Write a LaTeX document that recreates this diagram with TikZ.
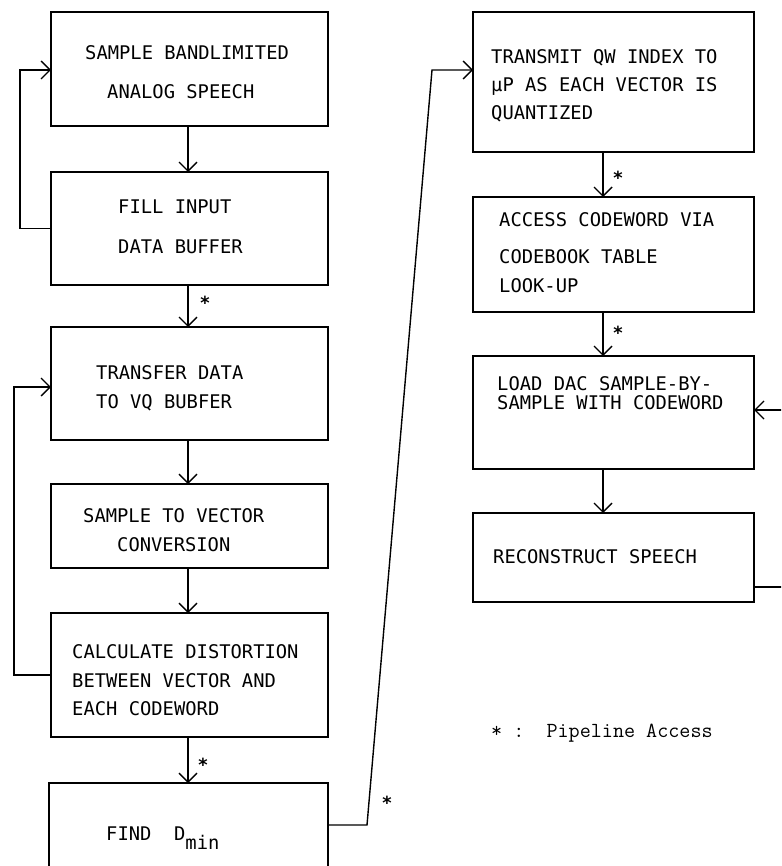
\documentclass[tikz,border=0pt]{standalone}
\usepackage{fontspec}
\newfontfamily\flowfont{DejaVu Sans Mono}
\usetikzlibrary{arrows.meta}

\begin{document}
\begin{tikzpicture}[x=1pt,y=-1pt,
  stage/.style={draw,line width=1.4pt,rectangle,inner sep=0pt,outer sep=0pt},
  txt/.style={anchor=base west,inner sep=0pt,font=\flowfont\fontsize{18.8}{22}\selectfont},
  pipe/.style={inner sep=0pt,font=\flowfont\bfseries\fontsize{18}{20}\selectfont},
  flow/.style={line width=1.4pt,-{Straight Barb[length=9pt,width=18pt]}},
  wire/.style={line width=1.4pt}]
  \useasboundingbox (0,0) rectangle (781,866);
  \clip (0,0) rectangle (781,866);

  % left column
  \node[stage,minimum width=277pt,minimum height=114pt] (sample) at (189.5,69) {};
  \node[stage,minimum width=277pt,minimum height=113pt] (fill) at (189.5,228.5) {};
  \node[stage,minimum width=277pt,minimum height=113pt] (xfer) at (189.5,383.5) {};
  \node[stage,minimum width=277pt,minimum height=84pt] (conv) at (189.5,526) {};
  \node[stage,minimum width=277pt,minimum height=124pt] (calc) at (189.5,675) {};
  \node[stage,minimum width=279pt,minimum height=100pt] (find) at (188.5,833) {};

  % right column
  \node[stage,minimum width=281pt,minimum height=140pt] (xmit) at (613.5,82) {};
  \node[stage,minimum width=281pt,minimum height=115pt] (access) at (613.5,254.5) {};
  \node[stage,minimum width=281pt,minimum height=113pt] (dac) at (613.5,412.5) {};
  \node[stage,minimum width=281pt,minimum height=89pt] (recon) at (613.5,557.5) {};

  % texts
  \node[txt] (t1a) at (85,60) {SAMPLE BANDLIMITED};
  \node[txt] (t1b) at (107,99) {ANALOG SPEECH};
  \node[txt] (t2a) at (118,214) {FILL INPUT};
  \node[txt] (t2b) at (118,254) {DATA BUFFER};
  \node[txt] (t3a) at (96,379) {TRANSFER DATA};
  \node[txt] (t3b) at (96,408) {TO VQ BUBFER};
  \node[txt] (t4a) at (83,522) {SAMPLE TO VECTOR};
  \node[txt] (t4b) at (117,551) {CONVERSION};
  \node[txt] (t5a) at (72,658) {CALCULATE DISTORTION};
  \node[txt] (t5b) at (72,687) {BETWEEN VECTOR AND};
  \node[txt] (t5c) at (72,715) {EACH CODEWORD};
  \node[txt] (t6a) at (106,840) {FIND~~D\raisebox{-9pt}{min}};
  \node[txt] (r1a) at (491,64) {TRANSMIT QW INDEX TO};
  \node[txt] (r1b) at (491,92) {µP AS EACH VECTOR IS};
  \node[txt] (r1c) at (491,120) {QUANTIZED};
  \node[txt] (r2a) at (499,227) {ACCESS CODEWORD VIA};
  \node[txt] (r2b) at (499,264) {CODEBOOK TABLE};
  \node[txt] (r2c) at (499,292) {LOOK-UP};
  \node[txt] (r3a) at (497,390) {LOAD DAC SAMPLE-BY-};
  \node[txt] (r3b) at (497,409) {SAMPLE WITH CODEWORD};
  \node[txt] (r4a) at (493,563) {RECONSTRUCT SPEECH};

  \coordinate (lx) at (188,0);
  \coordinate (rx) at (603,0);
  \coordinate (loopA) at (20,70);
  \coordinate (loopB) at (14,387);
  \coordinate (bendlow) at (367,825);
  \coordinate (bendup) at (432,70);
  \coordinate (loopC) at (785,410);
  \coordinate (loopD) at (785,587);

  \draw[flow] (sample.south -| lx) -- (fill.north -| lx);
  \draw[flow] (fill.south -| lx) -- (xfer.north -| lx);
  \draw[flow] (xfer.south -| lx) -- (conv.north -| lx);
  \draw[flow] (conv.south -| lx) -- (calc.north -| lx);
  \draw[flow] (calc.south -| lx) -- (find.north -| lx);

  \draw[flow] (xmit.south -| rx) -- (access.north -| rx);
  \draw[flow] (access.south -| rx) -- (dac.north -| rx);
  \draw[flow] (dac.south -| rx) -- (recon.north -| rx);

  \draw[flow] (fill.west) -| (loopA) -- (sample.west |- loopA);
  \draw[flow] (calc.west) -| (loopB) -- (xfer.west |- loopB);
  \draw[flow] (find.east |- bendlow) -- (bendlow) -- (bendup) -- (xmit.west |- bendup);
  \draw[flow] (recon.east |- loopD) -- (loopD) -- (loopC) -- (dac.east |- loopC);

  % pipeline marks
  \node[pipe] (s1) at (205,303) {*};
  \node[pipe] (s2) at (203,765) {*};
  \node[pipe] (s3) at (387,803) {*};
  \node[pipe] (s4) at (618,178) {*};
  \node[pipe] (s5) at (618,333) {*};

  \node[anchor=base west,inner sep=0pt,font=\ttfamily\fontsize{21.5}{24}\selectfont] (note) at (491,737) {* :~~Pipeline Access};
\end{tikzpicture}
\end{document}
